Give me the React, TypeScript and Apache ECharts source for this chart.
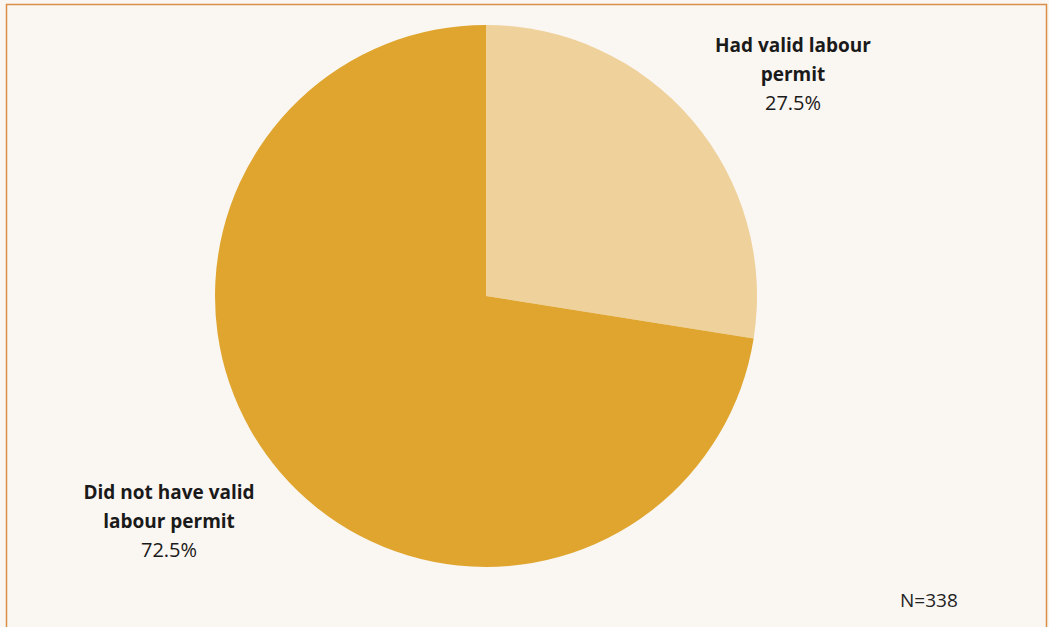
import React, { useEffect, useRef } from "react";
import * as echarts from "echarts";

const categories = ["Had valid labour permit", "Did not have valid labour permit"];
const values = [27.5, 72.5];
const labelLines = [["Had valid labour", "permit"], ["Did not have valid", "labour permit"]];
const footnote = "N=338";

export default function App() {
  const ref = useRef<HTMLDivElement>(null);
  useEffect(() => {
    if (!ref.current) return;
    const chart = echarts.init(ref.current, null, { renderer: "svg" });
    const labelPos = [
      { x: 793, y: 30 },
      { x: 169, y: 477 },
    ];
    chart.setOption({
      animation: false,
      backgroundColor: "#FAF6F1",
      graphic: [
        {
          type: "rect",
          shape: { x: 6.5, y: 4.5, width: 1040, height: 640 },
          style: { fill: "none", stroke: "#D98E4A", lineWidth: 1.5 },
          silent: true,
        },
        {
          type: "text",
          left: 900,
          top: 590,
          style: { text: footnote, fontSize: 19, fill: "#222", fontFamily: "Open Sans" },
        },
      ],
      series: [
        {
          type: "pie",
          center: [486, 296],
          radius: 271,
          startAngle: 90,
          clockwise: true,
          data: categories.map((c, i) => ({ name: c, value: values[i] })),
          color: ["#EFD19B", "#DFA52F"],
          label: {
            show: true,
            position: "outside",
            formatter: (p: any) =>
              labelLines[p.dataIndex].map((l) => `{b|${l}}`).join("\n") + `\n{v|${p.value.toFixed(1)}%}`,
            rich: {
              b: { fontSize: 19, fontWeight: "bold", fontFamily: "Open Sans", color: "#1a1a1a", lineHeight: 29, align: "center" },
              v: { fontSize: 20, fontFamily: "Open Sans", color: "#1a1a1a", lineHeight: 29, align: "center" },
            },
            align: "center",
          },
          labelLine: { show: false },
          labelLayout: (params: any) => ({
            x: labelPos[params.dataIndex].x,
            y: labelPos[params.dataIndex].y,
            align: "center",
            verticalAlign: "top",
          }),
          itemStyle: { borderWidth: 0 },
          emphasis: { disabled: true },
        },
      ],
    });
    return () => chart.dispose();
  }, []);
  return (
    <div
      ref={ref}
      style={{ position: "fixed", left: 0, top: 0, width: 1049, height: 627 }}
    />
  );
}
